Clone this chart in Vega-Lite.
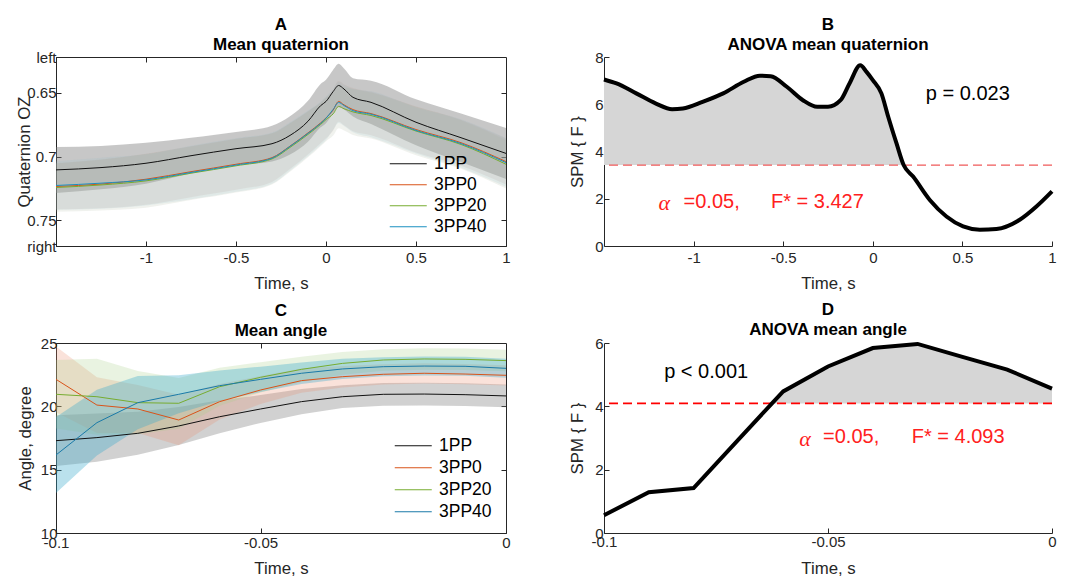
{
  "$schema": "https://vega.github.io/schema/vega-lite/v6.json",
  "background": "white",
  "padding": {"left": 15, "top": 15, "right": 0, "bottom": 0},
  "config": {
    "font": "Liberation Sans",
    "view": {"stroke": null},
    "axis": {
      "labelFont": "Liberation Sans", "labelFontSize": 15, "labelColor": "#262626",
      "titleFont": "Liberation Sans", "titleFontSize": 16.8, "titleFontWeight": "normal", "titleColor": "#262626",
      "domainColor": "#262626", "tickColor": "#262626", "grid": false,
      "labelFlush": false, "labelOverlap": false, "tickSize": -5
    },
    "title": {"font": "Liberation Sans", "fontSize": 17, "fontWeight": "bold", "color": "#000000", "lineHeight": 20, "anchor": "middle", "frame": "group", "offset": -3.5},
    "legend": {"orient": "none", "title": null, "symbolType": "M-3.7,0H3.7", "symbolSize": 100, "symbolStrokeWidth": 1, "labelFontSize": 17.5, "labelFont": "Liberation Sans", "labelColor": "#000000", "rowPadding": 2, "labelOffset": 17, "padding": 0}
  },
  "bounds": "flush",
  "columns": 2,
  "spacing": {"row": 97, "column": 98},
  "resolve": {"scale": {"stroke": "independent", "x": "independent", "y": "independent"}, "legend": {"stroke": "independent"}},
  "datasets": {
    "qa": [
      {"s":"1PP","t":-1.5,"m":0.7104,"lo":0.6924,"hi":0.7284},
      {"s":"1PP","t":-1.25,"m":0.7086,"lo":0.6916,"hi":0.7256},
      {"s":"1PP","t":-1.0,"m":0.7052,"lo":0.6892,"hi":0.7212},
      {"s":"1PP","t":-0.75,"m":0.6993,"lo":0.6853,"hi":0.7133},
      {"s":"1PP","t":-0.5,"m":0.6938,"lo":0.6808,"hi":0.7068},
      {"s":"1PP","t":-0.3,"m":0.6899,"lo":0.6759,"hi":0.7039},
      {"s":"1PP","t":-0.2,"m":0.6834,"lo":0.6684,"hi":0.6984},
      {"s":"1PP","t":-0.1,"m":0.6723,"lo":0.6563,"hi":0.6883},
      {"s":"1PP","t":-0.03,"m":0.6601,"lo":0.6431,"hi":0.6771},
      {"s":"1PP","t":0,"m":0.6568,"lo":0.6398,"hi":0.6738},
      {"s":"1PP","t":0.04,"m":0.649,"lo":0.632,"hi":0.666},
      {"s":"1PP","t":0.07,"m":0.6443,"lo":0.6273,"hi":0.6613},
      {"s":"1PP","t":0.1,"m":0.6471,"lo":0.6311,"hi":0.6631},
      {"s":"1PP","t":0.15,"m":0.6536,"lo":0.6386,"hi":0.6686},
      {"s":"1PP","t":0.25,"m":0.6575,"lo":0.6405,"hi":0.6745},
      {"s":"1PP","t":0.5,"m":0.6731,"lo":0.6551,"hi":0.6911},
      {"s":"1PP","t":0.75,"m":0.6852,"lo":0.6662,"hi":0.7042},
      {"s":"1PP","t":1,"m":0.6975,"lo":0.6775,"hi":0.7175},
      {"s":"3PP0","t":-1.5,"m":0.7234,"lo":0.7054,"hi":0.7414},
      {"s":"3PP0","t":-1.25,"m":0.7215,"lo":0.7025,"hi":0.7405},
      {"s":"3PP0","t":-1.0,"m":0.7177,"lo":0.6977,"hi":0.7377},
      {"s":"3PP0","t":-0.75,"m":0.7118,"lo":0.6918,"hi":0.7318},
      {"s":"3PP0","t":-0.5,"m":0.706,"lo":0.686,"hi":0.726},
      {"s":"3PP0","t":-0.3,"m":0.7008,"lo":0.6818,"hi":0.7198},
      {"s":"3PP0","t":-0.2,"m":0.6918,"lo":0.6738,"hi":0.7098},
      {"s":"3PP0","t":-0.1,"m":0.6814,"lo":0.6644,"hi":0.6984},
      {"s":"3PP0","t":-0.03,"m":0.6736,"lo":0.6576,"hi":0.6896},
      {"s":"3PP0","t":0,"m":0.6697,"lo":0.6537,"hi":0.6857},
      {"s":"3PP0","t":0.04,"m":0.6635,"lo":0.6475,"hi":0.6795},
      {"s":"3PP0","t":0.07,"m":0.6568,"lo":0.6408,"hi":0.6728},
      {"s":"3PP0","t":0.1,"m":0.6595,"lo":0.6435,"hi":0.6755},
      {"s":"3PP0","t":0.15,"m":0.6632,"lo":0.6462,"hi":0.6802},
      {"s":"3PP0","t":0.25,"m":0.6663,"lo":0.6493,"hi":0.6833},
      {"s":"3PP0","t":0.5,"m":0.6788,"lo":0.6608,"hi":0.6968},
      {"s":"3PP0","t":0.75,"m":0.6891,"lo":0.6711,"hi":0.7071},
      {"s":"3PP0","t":1,"m":0.7039,"lo":0.6859,"hi":0.7219},
      {"s":"3PP20","t":-1.5,"m":0.7242,"lo":0.7052,"hi":0.7432},
      {"s":"3PP20","t":-1.25,"m":0.7222,"lo":0.7022,"hi":0.7422},
      {"s":"3PP20","t":-1.0,"m":0.719,"lo":0.698,"hi":0.74},
      {"s":"3PP20","t":-0.75,"m":0.713,"lo":0.692,"hi":0.734},
      {"s":"3PP20","t":-0.5,"m":0.7072,"lo":0.6862,"hi":0.7282},
      {"s":"3PP20","t":-0.3,"m":0.7018,"lo":0.6818,"hi":0.7218},
      {"s":"3PP20","t":-0.2,"m":0.6928,"lo":0.6738,"hi":0.7118},
      {"s":"3PP20","t":-0.1,"m":0.6826,"lo":0.6646,"hi":0.7006},
      {"s":"3PP20","t":-0.03,"m":0.6748,"lo":0.6578,"hi":0.6918},
      {"s":"3PP20","t":0,"m":0.671,"lo":0.654,"hi":0.688},
      {"s":"3PP20","t":0.04,"m":0.6665,"lo":0.6495,"hi":0.6835},
      {"s":"3PP20","t":0.07,"m":0.6607,"lo":0.6437,"hi":0.6777},
      {"s":"3PP20","t":0.1,"m":0.6625,"lo":0.6455,"hi":0.6795},
      {"s":"3PP20","t":0.15,"m":0.665,"lo":0.647,"hi":0.683},
      {"s":"3PP20","t":0.25,"m":0.6678,"lo":0.6498,"hi":0.6858},
      {"s":"3PP20","t":0.5,"m":0.68,"lo":0.661,"hi":0.699},
      {"s":"3PP20","t":0.75,"m":0.6905,"lo":0.6715,"hi":0.7095},
      {"s":"3PP20","t":1,"m":0.706,"lo":0.687,"hi":0.725},
      {"s":"3PP40","t":-1.5,"m":0.7226,"lo":0.7036,"hi":0.7416},
      {"s":"3PP40","t":-1.25,"m":0.7208,"lo":0.7008,"hi":0.7408},
      {"s":"3PP40","t":-1.0,"m":0.7182,"lo":0.6982,"hi":0.7382},
      {"s":"3PP40","t":-0.75,"m":0.7124,"lo":0.6914,"hi":0.7334},
      {"s":"3PP40","t":-0.5,"m":0.7066,"lo":0.6856,"hi":0.7276},
      {"s":"3PP40","t":-0.3,"m":0.7012,"lo":0.6812,"hi":0.7212},
      {"s":"3PP40","t":-0.2,"m":0.692,"lo":0.673,"hi":0.711},
      {"s":"3PP40","t":-0.1,"m":0.6818,"lo":0.6638,"hi":0.6998},
      {"s":"3PP40","t":-0.03,"m":0.674,"lo":0.657,"hi":0.691},
      {"s":"3PP40","t":0,"m":0.67,"lo":0.653,"hi":0.687},
      {"s":"3PP40","t":0.04,"m":0.663,"lo":0.647,"hi":0.679},
      {"s":"3PP40","t":0.07,"m":0.6576,"lo":0.6416,"hi":0.6736},
      {"s":"3PP40","t":0.1,"m":0.66,"lo":0.644,"hi":0.676},
      {"s":"3PP40","t":0.15,"m":0.664,"lo":0.647,"hi":0.681},
      {"s":"3PP40","t":0.25,"m":0.6668,"lo":0.6488,"hi":0.6848},
      {"s":"3PP40","t":0.5,"m":0.6795,"lo":0.6615,"hi":0.6975},
      {"s":"3PP40","t":0.75,"m":0.6898,"lo":0.6708,"hi":0.7088},
      {"s":"3PP40","t":1,"m":0.7047,"lo":0.6857,"hi":0.7237}
    ],
    "fq": [
      {"t":-1.5,"F":7.05},{"t":-1.43,"F":6.88},{"t":-1.32,"F":6.46},{"t":-1.21,"F":6.03},
      {"t":-1.12,"F":5.79},{"t":-1.06,"F":5.82},{"t":-0.95,"F":6.1},{"t":-0.835,"F":6.46},
      {"t":-0.72,"F":6.95},{"t":-0.63,"F":7.21},{"t":-0.57,"F":7.19},{"t":-0.48,"F":6.74},
      {"t":-0.39,"F":6.17},{"t":-0.31,"F":5.89},{"t":-0.25,"F":5.89},{"t":-0.18,"F":6.17},
      {"t":-0.13,"F":6.88},{"t":-0.07,"F":7.65},{"t":-0.035,"F":7.37},{"t":0,"F":7.02},
      {"t":0.048,"F":6.46},{"t":0.086,"F":5.47},{"t":0.132,"F":4.35},{"t":0.172,"F":3.427},
      {"t":0.225,"F":2.94},{"t":0.318,"F":1.95},{"t":0.411,"F":1.25},{"t":0.504,"F":0.83},
      {"t":0.597,"F":0.69},{"t":0.69,"F":0.72},{"t":0.82,"F":1.11},{"t":0.913,"F":1.67},
      {"t":1,"F":2.31}
    ],
    "ang": [
      {"s":"1PP","i":1,"m":17.29,"lo":15.29,"hi":19.29},
      {"s":"1PP","i":2,"m":17.53,"lo":15.63,"hi":19.43},
      {"s":"1PP","i":3,"m":17.87,"lo":16.17,"hi":19.57},
      {"s":"1PP","i":4,"m":18.45,"lo":16.95,"hi":19.95},
      {"s":"1PP","i":5,"m":19.18,"lo":17.88,"hi":20.48},
      {"s":"1PP","i":6,"m":19.79,"lo":18.69,"hi":20.89},
      {"s":"1PP","i":7,"m":20.37,"lo":19.37,"hi":21.37},
      {"s":"1PP","i":8,"m":20.76,"lo":19.86,"hi":21.66},
      {"s":"1PP","i":9,"m":20.95,"lo":20.05,"hi":21.85},
      {"s":"1PP","i":10,"m":20.97,"lo":20.07,"hi":21.87},
      {"s":"1PP","i":11,"m":20.92,"lo":20.02,"hi":21.82},
      {"s":"1PP","i":12,"m":20.82,"lo":19.92,"hi":21.72},
      {"s":"3PP0","i":1,"m":22.13,"lo":19.53,"hi":24.73},
      {"s":"3PP0","i":2,"m":20.1,"lo":17.9,"hi":22.3},
      {"s":"3PP0","i":3,"m":19.79,"lo":17.89,"hi":21.69},
      {"s":"3PP0","i":4,"m":18.92,"lo":16.92,"hi":20.92},
      {"s":"3PP0","i":5,"m":20.37,"lo":18.97,"hi":21.77},
      {"s":"3PP0","i":6,"m":21.29,"lo":20.19,"hi":22.39},
      {"s":"3PP0","i":7,"m":22.03,"lo":21.08,"hi":22.98},
      {"s":"3PP0","i":8,"m":22.34,"lo":21.49,"hi":23.19},
      {"s":"3PP0","i":9,"m":22.53,"lo":21.73,"hi":23.33},
      {"s":"3PP0","i":10,"m":22.61,"lo":21.81,"hi":23.41},
      {"s":"3PP0","i":11,"m":22.55,"lo":21.75,"hi":23.35},
      {"s":"3PP0","i":12,"m":22.45,"lo":21.65,"hi":23.25},
      {"s":"3PP20","i":1,"m":20.95,"lo":18.25,"hi":23.65},
      {"s":"3PP20","i":2,"m":20.76,"lo":17.76,"hi":23.76},
      {"s":"3PP20","i":3,"m":20.29,"lo":17.79,"hi":22.79},
      {"s":"3PP20","i":4,"m":20.24,"lo":18.24,"hi":22.24},
      {"s":"3PP20","i":5,"m":21.55,"lo":20.05,"hi":23.05},
      {"s":"3PP20","i":6,"m":22.29,"lo":21.09,"hi":23.49},
      {"s":"3PP20","i":7,"m":22.92,"lo":21.92,"hi":23.92},
      {"s":"3PP20","i":8,"m":23.39,"lo":22.49,"hi":24.29},
      {"s":"3PP20","i":9,"m":23.66,"lo":22.81,"hi":24.51},
      {"s":"3PP20","i":10,"m":23.74,"lo":22.89,"hi":24.59},
      {"s":"3PP20","i":11,"m":23.71,"lo":22.86,"hi":24.56},
      {"s":"3PP20","i":12,"m":23.61,"lo":22.76,"hi":24.46},
      {"s":"3PP40","i":1,"m":16.16,"lo":13.16,"hi":19.16},
      {"s":"3PP40","i":2,"m":18.71,"lo":16.11,"hi":21.31},
      {"s":"3PP40","i":3,"m":20.29,"lo":18.19,"hi":22.39},
      {"s":"3PP40","i":4,"m":20.95,"lo":19.45,"hi":22.45},
      {"s":"3PP40","i":5,"m":21.63,"lo":20.43,"hi":22.83},
      {"s":"3PP40","i":6,"m":22.13,"lo":21.13,"hi":23.13},
      {"s":"3PP40","i":7,"m":22.61,"lo":21.76,"hi":23.46},
      {"s":"3PP40","i":8,"m":22.95,"lo":22.15,"hi":23.75},
      {"s":"3PP40","i":9,"m":23.13,"lo":22.38,"hi":23.88},
      {"s":"3PP40","i":10,"m":23.18,"lo":22.43,"hi":23.93},
      {"s":"3PP40","i":11,"m":23.16,"lo":22.41,"hi":23.91},
      {"s":"3PP40","i":12,"m":23.0,"lo":22.25,"hi":23.75}
    ],
    "fa": [
      {"t":-0.1,"F":0.56},{"t":-0.09,"F":1.29},{"t":-0.08,"F":1.42},{"t":-0.07,"F":2.95},
      {"t":-0.0625,"F":4.093},{"t":-0.06,"F":4.47},{"t":-0.05,"F":5.26},{"t":-0.04,"F":5.84},
      {"t":-0.03,"F":5.97},{"t":-0.02,"F":5.56},{"t":-0.01,"F":5.16},{"t":0,"F":4.56}
    ]
  },
  "concat": [
    {
      "width": 450, "height": 189,
      "title": {"text": ["A", "Mean quaternion"]},
      "view": {"stroke": "#262626", "strokeWidth": 1},
      "data": {"name": "qa"},
      "resolve": {"axis": {"x": "independent", "y": "independent"}},
      "layer": [
        {
          "transform": [{"filter": "datum.s == '1PP'"}],
          "mark": {"type": "area", "interpolate": "monotone", "color": "#7a7a7a", "opacity": 0.42},
          "encoding": {
            "x": {"field": "t", "type": "quantitative", "scale": {"domain": [-1.5, 1], "nice": false, "zero": false},
                  "axis": {"values": [-1, -0.5, 0, 0.5, 1], "labelExpr": "'' + datum.value", "title": "Time, s", "labelPadding": 9, "titleBaseline": "middle", "titleY": 37}},
            "y": {"field": "lo", "type": "quantitative", "scale": {"domain": [0.622, 0.77], "reverse": true, "nice": false, "zero": false},
                  "axis": {"values": [0.622, 0.65, 0.7, 0.75, 0.77], "labelExpr": "datum.value < 0.63 ? 'left' : datum.value > 0.76 ? 'right' : '' + datum.value", "title": "Quaternion OZ", "labelPadding": 5, "titleBaseline": "middle", "titleX": -32}},
            "y2": {"field": "hi"}
          }
        },
        {
          "transform": [{"filter": "datum.s == '3PP0'"}],
          "mark": {"type": "area", "interpolate": "monotone", "color": "#b89888", "opacity": 0.16},
          "encoding": {"x": {"field": "t", "type": "quantitative", "axis": null}, "y": {"field": "lo", "type": "quantitative", "axis": null}, "y2": {"field": "hi"}}
        },
        {
          "transform": [{"filter": "datum.s == '3PP20'"}],
          "mark": {"type": "area", "interpolate": "monotone", "color": "#a0ac98", "opacity": 0.16},
          "encoding": {"x": {"field": "t", "type": "quantitative", "axis": null}, "y": {"field": "lo", "type": "quantitative", "axis": null}, "y2": {"field": "hi"}}
        },
        {
          "transform": [{"filter": "datum.s == '3PP40'"}],
          "mark": {"type": "area", "interpolate": "monotone", "color": "#8cbcc8", "opacity": 0.16},
          "encoding": {"x": {"field": "t", "type": "quantitative", "axis": null}, "y": {"field": "lo", "type": "quantitative", "axis": null}, "y2": {"field": "hi"}}
        },
        {
          "mark": {"type": "line", "interpolate": "monotone", "strokeWidth": 1},
          "encoding": {
            "x": {"field": "t", "type": "quantitative", "axis": {"orient": "top", "values": [-1, -0.5, 0, 0.5], "labels": false, "domain": false, "title": null}},
            "y": {"field": "m", "type": "quantitative", "axis": {"orient": "right", "values": [0.65, 0.7, 0.75], "labels": false, "domain": false, "title": null}},
            "stroke": {"field": "s", "type": "nominal", "scale": {"domain": ["1PP", "3PP0", "3PP20", "3PP40"], "range": ["#111111", "#D95319", "#77AC30", "#1a8fc0"]},
                       "legend": {"legendX": 343.5, "legendY": 98}}
          }
        }
      ]
    },
    {
      "width": 448, "height": 189,
      "title": {"text": ["B", "ANOVA mean quaternion"]},
      "layer": [
        {
          "data": {"name": "fq"},
          "transform": [{"filter": "datum.F >= 3.427"}],
          "mark": {"type": "area", "interpolate": "monotone", "color": "#d6d6d6"},
          "encoding": {
            "x": {"field": "t", "type": "quantitative", "scale": {"domain": [-1.5, 1], "nice": false, "zero": false},
                  "axis": {"values": [-1, -0.5, 0, 0.5, 1], "labelExpr": "'' + datum.value", "title": "Time, s", "labelPadding": 9, "titleBaseline": "middle", "titleY": 37}},
            "y": {"field": "F", "type": "quantitative", "scale": {"domain": [0, 8], "nice": false},
                  "axis": {"values": [0, 2, 4, 6, 8], "title": "SPM { F }", "labelPadding": 6, "titleBaseline": "middle", "titleX": -27}},
            "y2": {"datum": 3.427}
          }
        },
        {
          "data": {"values": [{}]},
          "mark": {"type": "rule", "color": "#f05a5a", "strokeDash": [9, 5], "strokeWidth": 1.3},
          "encoding": {"y": {"datum": 3.427}}
        },
        {
          "data": {"name": "fq"},
          "mark": {"type": "line", "interpolate": "monotone", "color": "#000000", "strokeWidth": 4},
          "encoding": {"x": {"field": "t", "type": "quantitative"}, "y": {"field": "F", "type": "quantitative"}}
        },
        {
          "data": {"values": [{}]},
          "mark": {"type": "text", "text": "p = 0.023", "fontSize": 20, "align": "center", "baseline": "middle", "color": "#000000"},
          "encoding": {"x": {"datum": 0.53}, "y": {"datum": 6.43}}
        },
        {
          "data": {"values": [{}]},
          "mark": {"type": "text", "text": "α", "font": "Liberation Serif", "fontStyle": "italic", "fontSize": 22, "align": "center", "baseline": "middle", "color": "#ff2020"},
          "encoding": {"x": {"datum": -1.164}, "y": {"datum": 1.8}}
        },
        {
          "data": {"values": [{}]},
          "mark": {"type": "text", "text": "=0.05,", "fontSize": 20, "align": "left", "baseline": "middle", "color": "#ff2020"},
          "encoding": {"x": {"datum": -1.056}, "y": {"datum": 1.875}}
        },
        {
          "data": {"values": [{}]},
          "mark": {"type": "text", "text": "F* = 3.427", "fontSize": 20, "align": "left", "baseline": "middle", "color": "#ff2020"},
          "encoding": {"x": {"datum": -0.568}, "y": {"datum": 1.875}}
        }
      ]
    },
    {
      "width": 450, "height": 190,
      "title": {"text": ["C", "Mean angle"]},
      "view": {"stroke": "#262626", "strokeWidth": 1},
      "data": {"name": "ang"},
      "resolve": {"axis": {"x": "independent", "y": "independent"}},
      "layer": [
        {
          "transform": [{"filter": "datum.s == '1PP'"}],
          "mark": {"type": "area", "color": "#7a7a7a", "opacity": 0.35},
          "encoding": {
            "x": {"field": "i", "type": "quantitative", "scale": {"domain": [1, 12], "nice": false, "zero": false},
                  "axis": {"values": [1, 6, 12], "labelExpr": "datum.value == 1 ? '-0.1' : datum.value == 6 ? '-0.05' : '0'", "title": "Time, s", "labelPadding": 7, "titleBaseline": "middle", "titleY": 35}},
            "y": {"field": "lo", "type": "quantitative", "scale": {"domain": [10, 25], "nice": false, "zero": false},
                  "axis": {"values": [10, 15, 20, 25], "title": "Angle, degree", "labelPadding": 4, "titleBaseline": "middle", "titleX": -31}},
            "y2": {"field": "hi"}
          }
        },
        {
          "transform": [{"filter": "datum.s == '3PP0'"}],
          "mark": {"type": "area", "color": "#ec8a6a", "opacity": 0.25},
          "encoding": {"x": {"field": "i", "type": "quantitative", "axis": null}, "y": {"field": "lo", "type": "quantitative", "axis": null}, "y2": {"field": "hi"}}
        },
        {
          "transform": [{"filter": "datum.s == '3PP20'"}],
          "mark": {"type": "area", "color": "#a8d088", "opacity": 0.25},
          "encoding": {"x": {"field": "i", "type": "quantitative", "axis": null}, "y": {"field": "lo", "type": "quantitative", "axis": null}, "y2": {"field": "hi"}}
        },
        {
          "transform": [{"filter": "datum.s == '3PP40'"}],
          "mark": {"type": "area", "color": "#3aa8cc", "opacity": 0.35},
          "encoding": {"x": {"field": "i", "type": "quantitative", "axis": null}, "y": {"field": "lo", "type": "quantitative", "axis": null}, "y2": {"field": "hi"}}
        },
        {
          "mark": {"type": "line", "strokeWidth": 1},
          "encoding": {
            "x": {"field": "i", "type": "quantitative", "axis": {"orient": "top", "values": [6], "labels": false, "domain": false, "title": null}},
            "y": {"field": "m", "type": "quantitative", "axis": {"orient": "right", "values": [15, 20], "labels": false, "domain": false, "title": null}},
            "stroke": {"field": "s", "type": "nominal", "scale": {"domain": ["1PP", "3PP0", "3PP20", "3PP40"], "range": ["#111111", "#D95319", "#77AC30", "#1a7aa8"]},
                       "legend": {"legendX": 348.5, "legendY": 94, "rowPadding": 3}}
          }
        }
      ]
    },
    {
      "width": 448, "height": 190,
      "title": {"text": ["D", "ANOVA mean angle"]},
      "layer": [
        {
          "data": {"name": "fa"},
          "transform": [{"filter": "datum.F >= 4.093"}],
          "mark": {"type": "area", "color": "#d6d6d6"},
          "encoding": {
            "x": {"field": "t", "type": "quantitative", "scale": {"domain": [-0.1, 0], "nice": false, "zero": false},
                  "axis": {"values": [-0.1, -0.05, 0], "labelExpr": "'' + datum.value", "title": "Time, s", "labelPadding": 6, "titleBaseline": "middle", "titleY": 35}},
            "y": {"field": "F", "type": "quantitative", "scale": {"domain": [0, 6], "nice": false},
                  "axis": {"values": [0, 2, 4, 6], "title": "SPM { F }", "labelPadding": 6, "titleBaseline": "middle", "titleX": -27}},
            "y2": {"datum": 4.093}
          }
        },
        {
          "data": {"values": [{}]},
          "mark": {"type": "rule", "color": "#ff0000", "strokeDash": [9, 5], "strokeWidth": 1.8},
          "encoding": {"y": {"datum": 4.093}}
        },
        {
          "data": {"name": "fa"},
          "mark": {"type": "line", "color": "#000000", "strokeWidth": 4},
          "encoding": {"x": {"field": "t", "type": "quantitative"}, "y": {"field": "F", "type": "quantitative"}}
        },
        {
          "data": {"values": [{}]},
          "mark": {"type": "text", "text": "p < 0.001", "fontSize": 20, "align": "center", "baseline": "middle", "color": "#000000"},
          "encoding": {"x": {"datum": -0.0772}, "y": {"datum": 5.09}}
        },
        {
          "data": {"values": [{}]},
          "mark": {"type": "text", "text": "α", "font": "Liberation Serif", "fontStyle": "italic", "fontSize": 22, "align": "center", "baseline": "middle", "color": "#ff2020"},
          "encoding": {"x": {"datum": -0.0551}, "y": {"datum": 2.97}}
        },
        {
          "data": {"values": [{}]},
          "mark": {"type": "text", "text": "=0.05,", "fontSize": 20, "align": "left", "baseline": "middle", "color": "#ff2020"},
          "encoding": {"x": {"datum": -0.0511}, "y": {"datum": 3.04}}
        },
        {
          "data": {"values": [{}]},
          "mark": {"type": "text", "text": "F* = 4.093", "fontSize": 20, "align": "left", "baseline": "middle", "color": "#ff2020"},
          "encoding": {"x": {"datum": -0.0313}, "y": {"datum": 3.04}}
        }
      ]
    }
  ]
}
